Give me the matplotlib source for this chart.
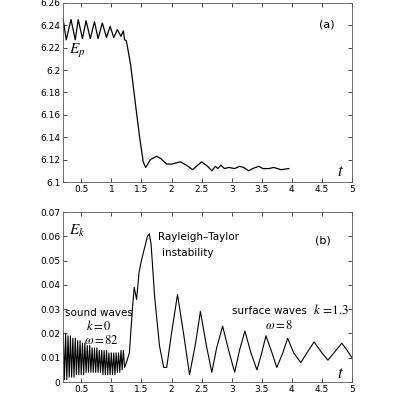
import matplotlib
matplotlib.use("Agg")
import matplotlib.pyplot as plt

plt.rcParams["mathtext.fontset"] = "stix"

# panel (a): potential energy
ep_t = [0.2, 0.25, 0.33, 0.4, 0.45, 0.52, 0.58, 0.65, 0.72, 0.78, 0.85, 0.92, 0.98, 1.04,
        1.1, 1.16, 1.2, 1.22, 1.25, 1.32, 1.4, 1.47, 1.53, 1.57, 1.65, 1.75, 1.82, 1.92,
        2.0, 2.15, 2.25, 2.35, 2.5, 2.6, 2.67, 2.73, 2.77, 2.82, 2.88, 2.95, 3.05, 3.13,
        3.2, 3.28, 3.35, 3.45, 3.52, 3.62, 3.7, 3.82, 3.95]
ep_v = [6.245, 6.227, 6.245, 6.227, 6.245, 6.228, 6.244, 6.228, 6.243, 6.228, 6.242, 6.229,
        6.239, 6.229, 6.236, 6.230, 6.235, 6.227, 6.226, 6.205, 6.170, 6.140, 6.118, 6.113,
        6.120, 6.123, 6.121, 6.116, 6.116, 6.118, 6.115, 6.111, 6.118, 6.114, 6.110, 6.114,
        6.112, 6.115, 6.112, 6.113, 6.112, 6.114, 6.113, 6.110, 6.112, 6.114, 6.112, 6.112,
        6.113, 6.111, 6.112]

# panel (b): kinetic energy
ek_t = [0.2, 0.22, 0.24, 0.26, 0.28, 0.3, 0.32, 0.34, 0.36, 0.38, 0.4, 0.42, 0.44, 0.46,
        0.48, 0.5, 0.52, 0.54, 0.56, 0.58, 0.6, 0.62, 0.64, 0.66, 0.68, 0.7, 0.72, 0.74,
        0.76, 0.78, 0.8, 0.82, 0.84, 0.86, 0.88, 0.9, 0.92, 0.94, 0.96, 0.98, 1.0, 1.02,
        1.04, 1.06, 1.08, 1.1, 1.12, 1.14, 1.16, 1.18, 1.2, 1.22, 1.25, 1.3, 1.35, 1.38,
        1.42, 1.46, 1.5, 1.55, 1.6, 1.63, 1.66, 1.72, 1.8, 1.87, 1.92, 2.0, 2.1, 2.2, 2.3,
        2.4, 2.48, 2.58, 2.67, 2.75, 2.85, 2.95, 3.05, 3.13, 3.22, 3.32, 3.42, 3.5, 3.57,
        3.67, 3.75, 3.85, 3.93, 4.03, 4.15, 4.25, 4.37, 4.5, 4.6, 4.7, 4.83, 4.92, 5.0]
ek_v = [0.020, 0.001, 0.020, 0.001, 0.019, 0.002, 0.019, 0.002, 0.018, 0.002, 0.018, 0.003,
        0.017, 0.003, 0.017, 0.003, 0.016, 0.003, 0.016, 0.004, 0.015, 0.004, 0.015, 0.004,
        0.014, 0.004, 0.014, 0.004, 0.014, 0.004, 0.013, 0.004, 0.013, 0.003, 0.013, 0.003,
        0.013, 0.003, 0.012, 0.003, 0.012, 0.003, 0.012, 0.003, 0.012, 0.004, 0.012, 0.004,
        0.013, 0.005, 0.013, 0.006, 0.008, 0.012, 0.030, 0.039, 0.034, 0.045, 0.050, 0.055,
        0.060, 0.061, 0.057, 0.035, 0.015, 0.006, 0.006, 0.020, 0.036, 0.020, 0.003, 0.016,
        0.029, 0.015, 0.004, 0.014, 0.023, 0.013, 0.004, 0.013, 0.021, 0.012, 0.005, 0.012,
        0.019, 0.012, 0.006, 0.012, 0.018, 0.012, 0.008, 0.012, 0.0165, 0.012, 0.009, 0.012,
        0.016, 0.013, 0.010]

xticks = [0.5, 1, 1.5, 2, 2.5, 3, 3.5, 4, 4.5, 5]
xlabels = ["0.5", "1", "1.5", "2", "2.5", "3", "3.5", "4", "4.5", "5"]

fig = plt.figure(figsize=(4, 4), dpi=100)
ax1 = fig.add_axes([0.158, 0.545, 0.722, 0.448])
ax2 = fig.add_axes([0.158, 0.045, 0.722, 0.425])

for ax in (ax1, ax2):
    ax.set_xlim(0.2, 5)
    ax.set_xticks(xticks)
    ax.set_xticklabels(xlabels)
    ax.tick_params(direction="in", top=True, right=True, labelsize=6.5, length=3, width=0.5, pad=2)
    for s in ax.spines.values():
        s.set_linewidth(0.6)
        s.set_color("#555555")

ax1.plot(ep_t, ep_v, color="black", lw=0.9)
ax1.set_ylim(6.1, 6.26)
ax1.set_yticks([6.1, 6.12, 6.14, 6.16, 6.18, 6.2, 6.22, 6.24, 6.26])
ax1.set_yticklabels(["6.1", "6.12", "6.14", "6.16", "6.18", "6.2", "6.22", "6.24", "6.26"])
ax1.text(0.3, 6.214, r"$E_p$", fontsize=11)
ax1.text(4.45, 6.238, "(a)", fontsize=8)
ax1.text(4.75, 6.105, r"$t$", fontsize=12)

ax2.plot(ek_t, ek_v, color="black", lw=0.8)
ax2.set_ylim(0, 0.07)
ax2.set_yticks([0, 0.01, 0.02, 0.03, 0.04, 0.05, 0.06, 0.07])
ax2.set_yticklabels(["0", "0.01", "0.02", "0.03", "0.04", "0.05", "0.06", "0.07"])
ax2.text(0.3, 0.0605, r"$E_k$", fontsize=11)
ax2.text(4.38, 0.057, "(b)", fontsize=8)
ax2.text(4.75, 0.0015, r"$t$", fontsize=12)
ax2.text(1.78, 0.0585, "Rayleigh\u2013Taylor", fontsize=7.5)
ax2.text(1.85, 0.052, "instability", fontsize=7.5)
ax2.text(0.23, 0.027, "sound waves", fontsize=7.5)
ax2.text(0.58, 0.0215, r"$k{=}0$", fontsize=9)
ax2.text(0.55, 0.0155, r"$\omega = 82$", fontsize=9)
ax2.text(3.0, 0.028, "surface waves", fontsize=7.5)
ax2.text(3.55, 0.022, r"$\omega = 8$", fontsize=9)
ax2.text(4.35, 0.028, r"$k\,=\!1.3$", fontsize=9.5)

fig.savefig("out.png", dpi=100)
